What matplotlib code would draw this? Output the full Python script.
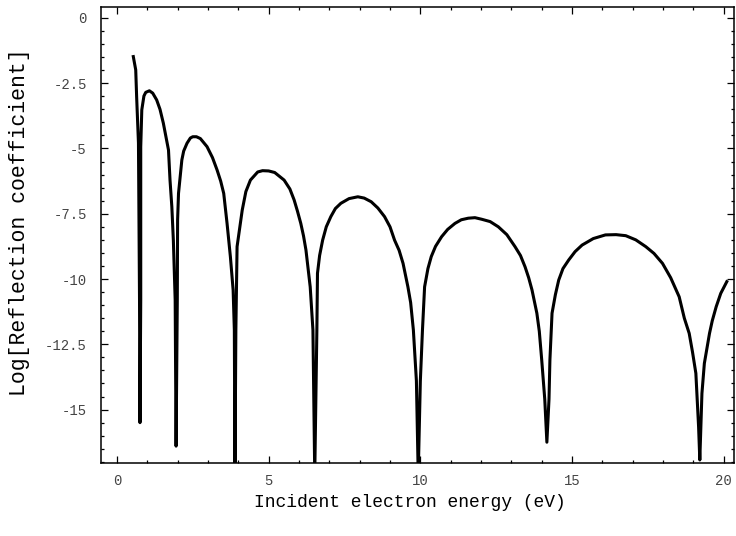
import matplotlib
matplotlib.use('Agg')
import matplotlib.pyplot as plt
from matplotlib.ticker import MultipleLocator, FixedLocator

# valores (energia en eV, log del coeficiente de reflexion)
energia = [0.54, 0.62, 0.65, 0.71, 0.745, 0.76, 0.785, 0.785, 0.82, 0.89, 0.95, 1.07,
           1.18, 1.31, 1.42, 1.53, 1.70, 1.75, 1.81, 1.86, 1.92, 1.95, 1.99, 2.00,
           2.03, 2.14, 2.20, 2.31, 2.42, 2.50, 2.62, 2.75, 2.97, 3.15, 3.30, 3.42,
           3.52, 3.63, 3.74, 3.83, 3.87, 3.89, 3.92, 3.96, 4.13, 4.25, 4.40, 4.64,
           4.80, 5.00, 5.20, 5.51, 5.70, 5.84, 5.95, 6.06, 6.15, 6.23, 6.37, 6.46,
           6.52, 6.59, 6.61, 6.68, 6.78, 6.90, 7.05, 7.20, 7.38, 7.65, 7.94, 8.15,
           8.38, 8.60, 8.82, 9.00, 9.15, 9.30, 9.43, 9.59, 9.68, 9.77, 9.87, 9.93,
           10.00, 10.07, 10.14, 10.25, 10.36, 10.50, 10.70, 10.90, 11.14, 11.35,
           11.58, 11.80, 12.02, 12.30, 12.57, 12.85, 13.12, 13.30, 13.45, 13.57,
           13.68, 13.84, 13.92, 14.00, 14.10, 14.17, 14.24, 14.27, 14.34, 14.45,
           14.56, 14.70, 14.89, 15.10, 15.33, 15.70, 16.10, 16.45, 16.77, 17.10,
           17.43, 17.70, 17.98, 18.25, 18.53, 18.70, 18.86, 18.97, 19.08, 19.17,
           19.21, 19.28, 19.36, 19.53, 19.62, 19.75, 19.90, 20.10]
log_r = [-1.48, -1.99, -3.02, -4.79, -10.8, -15.5, -10.8, -4.94, -3.52, -2.99, -2.85, -2.79,
         -2.88, -3.14, -3.50, -4.03, -5.06, -6.21, -7.23, -8.51, -10.8, -16.4, -10.8, -7.74,
         -6.72, -5.44, -5.10, -4.80, -4.60, -4.55, -4.55, -4.62, -4.93, -5.35, -5.82, -6.25,
         -6.72, -7.87, -9.15, -10.42, -11.95, -17.5, -11.95, -8.76, -7.36, -6.65, -6.21, -5.90,
         -5.85, -5.86, -5.92, -6.21, -6.55, -6.97, -7.40, -7.87, -8.35, -8.89, -10.3, -11.95,
         -17.5, -11.95, -9.78, -9.10, -8.51, -8.00, -7.61, -7.30, -7.10, -6.92, -6.85, -6.90,
         -7.04, -7.28, -7.61, -8.00, -8.51, -8.90, -9.40, -10.3, -10.9, -11.95, -13.9, -17.5,
         -13.9, -11.95, -10.3, -9.60, -9.14, -8.75, -8.38, -8.10, -7.87, -7.73,
         -7.67, -7.65, -7.71, -7.80, -8.00, -8.30, -8.76, -9.10, -9.53, -9.95,
         -10.42, -11.31, -12.0, -13.1, -14.6, -16.25, -14.6, -13.1, -11.31, -10.6,
         -10.04, -9.60, -9.27, -8.95, -8.70, -8.45, -8.31, -8.30, -8.34, -8.50,
         -8.76, -9.02, -9.40, -9.95, -10.68, -11.5, -12.08, -12.8, -13.61, -15.66,
         -16.93, -14.38, -13.23, -12.08, -11.6, -11.06, -10.55, -10.10]

ticks_y = [0, -2.5, -5, -7.5, -10, -12.5, -15]
etiquetas_y = ['0', '-2.5', '-5', '-7.5', '-10', '-12.5', '-15']
ticks_x = [0, 5, 10, 15, 20]

plt.rcParams['axes.unicode_minus'] = False
fuente = 'Liberation Mono'

fig = plt.figure(figsize=(7.36, 5.36), dpi=100)
ax = fig.add_axes([0.137, 0.136, 0.86, 0.851])

ax.plot(energia, log_r, color='black', lw=2.2, solid_joinstyle='round')

ax.set_xlim(-0.53, 20.33)
ax.set_ylim(-17.05, 0.42)

ax.xaxis.set_major_locator(FixedLocator(ticks_x))
ax.xaxis.set_minor_locator(MultipleLocator(1))
ax.set_yticks(ticks_y)
ax.set_yticklabels(etiquetas_y)
ax.yaxis.set_minor_locator(MultipleLocator(0.5))

ax.tick_params(which='both', direction='in', top=True, right=True, width=0.9,
               colors='black', labelcolor='#444444')
ax.tick_params(which='major', length=5, pad=10)
ax.tick_params(axis='x', which='major', pad=8)
ax.tick_params(which='minor', length=2.5)
for lab in ax.get_xticklabels() + ax.get_yticklabels():
    lab.set_fontfamily(fuente)
    lab.set_fontsize(10)

for lado in ax.spines.values():
    lado.set_linewidth(1.1)

ax.set_xlabel('Incident electron energy (eV)', fontfamily=fuente, fontsize=13)
ax.set_ylabel('Log[Reflection coefficient]', fontfamily=fuente, fontsize=15.5)
ax.xaxis.set_label_coords(0.488, -0.068)
ax.yaxis.set_label_coords(-0.112, 0.528)

fig.savefig('out.png', dpi=100)
